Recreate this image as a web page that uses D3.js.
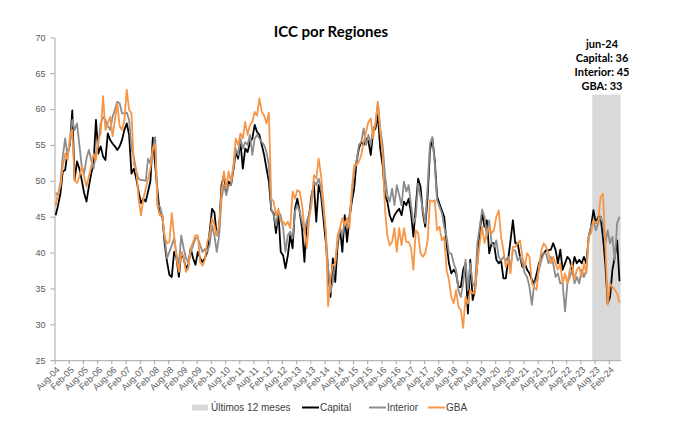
<!DOCTYPE html>
<html>
<head>
<meta charset="utf-8">
<script src="https://cdn.jsdelivr.net/npm/d3@7"></script>
<style>
  body { margin: 0; background: #fff; }
  svg { display: block; font-family: "Liberation Sans", Arial, sans-serif; }
  .axis path, .axis line { stroke: #a6a6a6; }
  .axis text { fill: #595959; font-size: 9px; font-family: "Liberation Sans", Arial, sans-serif; }
  .bold { font-family: Lato, "Noto Sans", sans-serif; font-weight: bold; fill: #000; }
  .legend text { font-size: 10px; fill: #404040; }
</style>
</head>
<body>
<script>
// meses: ago-04 .. jun-24 (239 puntos)
var months = d3.timeMonth.range(new Date(2004, 7, 1), new Date(2024, 6, 1));

var tickLabels = ["Aug-04","Feb-05","Aug-05","Feb-06","Aug-06","Feb-07","Aug-07","Feb-08",
  "Aug-08","Feb-09","Aug-09","Feb-10","Aug-10","Feb-11","Aug-11","Feb-12","Aug-12","Feb-13",
  "Aug-13","Feb-14","Aug-14","Feb-15","Aug-15","Feb-16","Aug-16","Feb-17","Aug-17","Feb-18",
  "Aug-18","Feb-19","Aug-19","Feb-20","Aug-20","Feb-21","Aug-21","Feb-22","Aug-22","Feb-23",
  "Aug-23","Feb-24"];

var yTicks = [25, 30, 35, 40, 45, 50, 55, 60, 65, 70];

// una fila = 12 meses, desde agosto
var capital = [
  45.2, 46.6, 48.2, 51.3, 51.5, 54, 55, 59.8, 50.1, 52.7, 51.7, 50.1,
  48.3, 47.1, 49.2, 51, 52.4, 58.5, 53.8, 54.8, 53.4, 52.9, 56.6, 55.7,
  55.2, 54.8, 54.3, 54.8, 55.7, 57.1, 58, 56.4, 51, 51.7, 50.3, 48.5,
  46.9, 47.5, 47.1, 48.5, 50, 56, 52.2, 48.5, 45.2, 45.2, 41.3, 38.7,
  36.9, 36.6, 40.1, 39.2, 36.6, 40.1, 39.2, 37.8, 38.3, 40.6, 39.2, 38.3,
  40.1, 39.2, 38.7, 39.2, 40.1, 42.9, 46.1, 45.6, 42.4, 43.3, 49.4, 50.8,
  48.5, 49.9, 49.4, 51.5, 54, 53.1, 55.4, 51.7, 54.5, 54, 55.4, 55.9,
  57.8, 56.8, 56.4, 55, 53.6, 51.7, 49.9, 45.9, 45.5, 42.7, 45.7, 40.1,
  39.6, 37.8, 39.6, 42.4, 40.6, 46.1, 47.5, 45.7, 43.4, 38.7, 44.3, 45.2,
  48, 49.4, 44.3, 49.4, 48, 44.8, 41.5, 37.5, 33.8, 39.2, 35.9, 41,
  43.4, 40.1, 45.2, 41.5, 44.8, 47.1, 48.9, 52.7, 54.5, 55.4, 55, 55.9,
  55.5, 53.6, 56.8, 57.3, 59.2, 54.5, 52.2, 48, 47.1, 45.2, 44.3, 45.2,
  45.7, 46.1, 45.2, 47.1, 46.6, 47.5, 45.5, 42.2, 46.4, 50.3, 49.2, 45.5,
  43.6, 47.8, 54.3, 55.9, 52.9, 47.8, 46.8, 45.9, 45, 41.3, 38.5, 37.1,
  37.6, 37.1, 35.2, 35.2, 37.6, 38.5, 31.5, 39, 33.4, 34.8, 38.5, 43.1,
  45.5, 43.6, 44.5, 39.9, 41.3, 41.3, 39, 38.5, 38.9, 36.4, 36.4, 39,
  41.7, 44.5, 41.3, 41.3, 39.4, 38, 38.5, 37.6, 37.1, 36.2, 35.7, 37,
  38.5, 39.4, 39.9, 40.3, 40.3, 40.4, 41.3, 40.4, 38.5, 40.4, 37.6, 38.5,
  39.4, 39, 37.6, 39.4, 38.5, 39, 38.5, 39.4, 38.5, 42.2, 43.6, 45.9,
  44.1, 45, 45, 42.2, 38.5, 32.9, 33.8, 37.6, 39.4, 41.7, 36
];

var interior = [
  48.3, 48, 49.7, 53.4, 55.9, 53.4, 55.2, 58.5, 57.1, 58, 55, 52,
  51, 53.1, 54.3, 52.9, 51.7, 53.8, 55.2, 58, 58.9, 58.5, 57.6, 57.1,
  58.9, 59.9, 61, 60.8, 59.4, 59.4, 59.5, 58.5, 54.5, 53.3, 51.3, 50.3,
  50.1, 50.1, 50, 53.1, 52.4, 54.5, 56.1, 46.6, 46.4, 45.2, 42, 39.2,
  40.1, 41, 42, 39.7, 38.3, 42.4, 40.6, 39.2, 38.7, 40.1, 41, 42,
  42, 41, 40.1, 40.5, 40.1, 41.1, 43.8, 42.4, 40.1, 42.4, 47.5, 49.4,
  48, 49.4, 49.4, 51.7, 54.5, 53.6, 55.9, 54.5, 55.4, 55, 56.4, 53.6,
  55.9, 56.4, 55.9, 55.4, 55, 54, 52.2, 46.1, 45.2, 43.8, 45.7, 45.2,
  43.4, 40.1, 42.4, 42.9, 42, 45.7, 46.6, 45.7, 44.3, 42.9, 44.3, 45.2,
  47.5, 49.9, 49.4, 50.3, 49, 46.1, 42.9, 37.8, 34.5, 35.9, 38.7, 41.5,
  43.4, 42.4, 44.3, 43.4, 45.2, 48, 51.3, 52.7, 55, 55.4, 57.3, 55,
  56.4, 55, 57.3, 57.8, 61, 57.3, 55, 50.8, 48, 47.1, 48.9, 46.6,
  49.4, 48, 46.6, 49.9, 48.5, 49.4, 46.6, 44.1, 45, 49.6, 47.8, 45.9,
  44.1, 49.2, 55.2, 56.1, 52.4, 47.3, 46.4, 45.5, 43.6, 42.2, 39.9, 39.9,
  38.5, 37.6, 34.8, 33.8, 35.7, 39, 34.8, 38.5, 35.7, 35.2, 41.3, 43.6,
  46, 45, 42.2, 44.5, 41.3, 40.8, 41.7, 39.4, 38.9, 39.4, 38.9, 39.4,
  38, 40.3, 40.3, 38.9, 39.4, 38.5, 37.1, 36.6, 35.2, 32.7, 35.7, 36.2,
  37.6, 38.9, 39.9, 39.9, 38.5, 39.4, 38.5, 36.6, 37.1, 35.7, 35.7, 31.8,
  35.7, 36.6, 37.6, 35.7, 36.6, 35.7, 37.6, 36.6, 37.6, 42.2, 43.6, 44.5,
  43.1, 44.1, 45, 44.1, 41.3, 43.1, 41.3, 42.2, 38.9, 44.1, 45
];

var gba = [
  46.5, 48.3, 49.2, 52, 53.8, 52.9, 56.2, 57.1, 50.1, 49.7, 50.6, 52,
  50.6, 49.2, 50.6, 52, 53.8, 52.9, 55.7, 56.6, 61.8, 57.1, 58, 58.9,
  56.2, 58.5, 60.8, 57.6, 57.1, 58.5, 62.7, 59.9, 59.4, 52.2, 51.7, 47.5,
  45.2, 47.5, 48.9, 50.3, 51.7, 54.5, 55, 46.4, 45.2, 45.2, 42.2, 41.3,
  41.5, 45.5, 42.4, 39.2, 37.3, 40.1, 39.4, 37.3, 37.8, 40.6, 41.5, 42.4,
  42.4, 38.7, 38.2, 39, 41.5, 42.4, 44.8, 43.8, 42.4, 43.8, 48.5, 51.3,
  48.9, 51.3, 49.9, 52.2, 55.9, 55, 56.6, 55.9, 58.2, 56.4, 57.8, 58.2,
  59.6, 59.1, 61.5, 59.6, 59.1, 58, 59.5, 47.5, 47.1, 45.2, 46.1, 44.3,
  44.3, 43.8, 44.3, 43.4, 48.5, 47.5, 48.7, 48.5, 46.6, 43.4, 40.6, 44.8,
  46.6, 50.8, 50.3, 53.1, 50.8, 47.1, 42.9, 32.5, 36.4, 38.3, 38.3, 42.4,
  43.4, 44.8, 43.8, 44.8, 43.4, 48.9, 52.2, 52.2, 52.7, 53.6, 55.4, 56.8,
  58.2, 58.7, 55.9, 58.2, 61, 56.8, 53.6, 46.1, 42.4, 41, 41.5, 43.4,
  40.1, 43.4, 41, 43.4, 41.5, 41.5, 40.6, 37.6, 43.1, 42.7, 39.9, 39.4,
  39.9, 41.7, 47.3, 47.1, 47.3, 43.1, 43.6, 41.7, 42.2, 37.6, 36.2, 33.8,
  32.9, 34.8, 32.5, 32, 29.5, 33.8, 32.9, 34.8, 34.3, 34.3, 38.5, 41.3,
  43.6, 41.3, 42.7, 43.6, 42.7, 43.1, 45, 45.9, 42.2, 40.3, 38, 38.9,
  37.1, 40.8, 40.8, 41.3, 41.7, 39.4, 38, 39.9, 39.4, 35.7, 35.2, 34.8,
  38, 40.3, 41.3, 40.8, 39.9, 38.5, 39.4, 38.5, 37.6, 38.5, 35.7, 37.1,
  35.7, 37.6, 38.5, 36.2, 37.6, 38, 36.6, 38.5, 37.1, 42.2, 42.7, 44.5,
  44.1, 44.5, 47.8, 48.2, 41.3, 32.7, 35.7, 35.2, 34.8, 34.3, 33
];

// barra gris "Últimos 12 meses"
var shadeTop = 62;
var nShade = 12;

var series = [
  {name: "Capital", values: capital, color: "#000000"},
  {name: "Interior", values: interior, color: "#8c8c8c"},
  {name: "GBA", values: gba, color: "#f79646"}
];

var width = 697, height = 429;

var svg = d3.select("body").append("svg")
  .attr("width", width)
  .attr("height", height);

var x = d3.scaleLinear().domain([0, months.length]).range([54.5, 620.7]);
var y = d3.scaleLinear().domain([25, 70]).range([360.2, 37.3]);

// zona sombreada
svg.append("rect")
  .attr("x", x(months.length - nShade))
  .attr("y", y(shadeTop))
  .attr("width", x(months.length) - x(months.length - nShade))
  .attr("height", y(25) - y(shadeTop))
  .attr("fill", "#d9d9d9");

// ejes
svg.append("g")
  .attr("class", "axis")
  .attr("transform", "translate(54.5,0)")
  .call(d3.axisLeft(y).tickValues(yTicks).tickSize(4).tickSizeOuter(0).tickPadding(5));

var xAxis = svg.append("g")
  .attr("class", "axis")
  .attr("transform", "translate(0,360.2)")
  .call(d3.axisBottom(x)
    .tickValues(d3.range(0, months.length, 6))
    .tickFormat(function(d, i) { return tickLabels[i]; })
    .tickSize(4).tickSizeOuter(0));

xAxis.selectAll(".tick text")
  .attr("x", 0).attr("y", 0).attr("dy", "0.35em")
  .attr("text-anchor", "end")
  .attr("font-size", "8.5px")
  .attr("transform", "translate(3,8) rotate(-45)");

// líneas
var line = d3.line()
  .x(function(d, i) { return x(i + 0.5); })
  .y(function(d) { return y(d); });

svg.selectAll(".serie")
  .data(series)
  .enter()
  .append("path")
    .attr("class", "serie")
    .attr("fill", "none")
    .attr("stroke", function(d) { return d.color; })
    .attr("stroke-width", 1.8)
    .attr("stroke-linejoin", "round")
    .attr("d", function(d) { return line(d.values); });

// título
svg.append("text")
  .attr("class", "bold")
  .attr("x", 331).attr("y", 37)
  .attr("text-anchor", "middle")
  .style("font-size", "15px")
  .text("ICC por Regiones");

// etiqueta último dato
var last = months.length - 1;
var note = [
  d3.timeFormat("%b-%y")(months[last]).toLowerCase().replace("jun", "jun"),
  "Capital: " + Math.round(capital[last]),
  "Interior: " + Math.round(interior[last]),
  "GBA: " + Math.round(gba[last])
];
svg.selectAll(".note")
  .data(note)
  .enter()
  .append("text")
    .attr("class", "note bold")
    .attr("x", 602)
    .attr("y", function(d, i) { return 48 + i * 14; })
    .attr("text-anchor", "middle")
    .style("font-size", "11px")
    .text(function(d) { return d; });

// leyenda
var legend = svg.append("g").attr("class", "legend");
legend.append("rect")
  .attr("x", 192).attr("y", 404.5).attr("width", 16).attr("height", 6)
  .attr("fill", "#d9d9d9");
legend.append("text").attr("x", 211).attr("y", 411).text("Últimos 12 meses");

var legX = [302, 369, 428];
series.forEach(function(s, i) {
  legend.append("line")
    .attr("x1", legX[i]).attr("x2", legX[i] + 17)
    .attr("y1", 407.5).attr("y2", 407.5)
    .attr("stroke", s.color).attr("stroke-width", 2);
  legend.append("text")
    .attr("x", legX[i] + 18).attr("y", 411)
    .text(s.name);
});
</script>
</body>
</html>
